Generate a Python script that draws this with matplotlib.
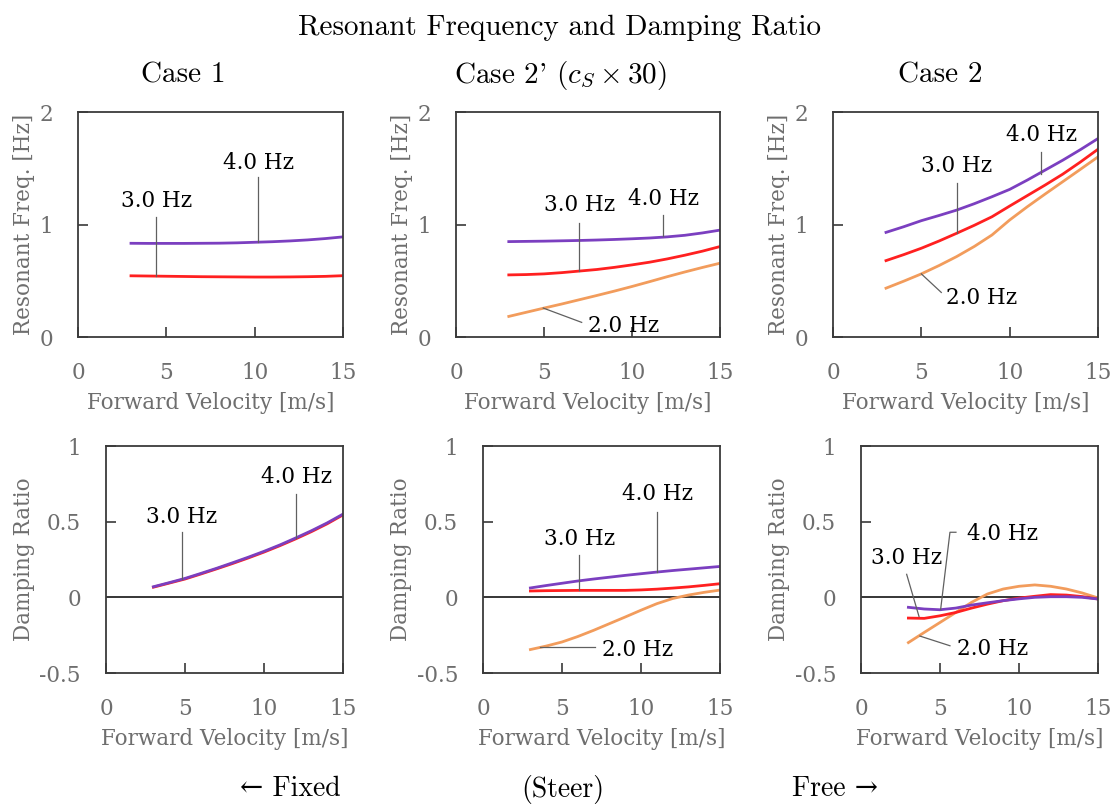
import matplotlib
matplotlib.use("Agg")
from matplotlib import pyplot as plt

plt.rcParams['mathtext.fontset'] = 'cm'

v = [3, 4, 5, 6, 7, 8, 9, 10, 11, 12, 13, 14, 15]

# resonant frequency [Hz]
freq_case1_40 = [0.833, 0.832, 0.832, 0.832, 0.833, 0.834, 0.837, 0.842, 0.847, 0.854, 0.863, 0.875, 0.890]
freq_case1_30 = [0.544, 0.542, 0.540, 0.538, 0.536, 0.535, 0.534, 0.533, 0.533, 0.534, 0.536, 0.539, 0.545]

freq_case2p_40 = [0.848, 0.850, 0.852, 0.855, 0.858, 0.862, 0.867, 0.873, 0.880, 0.890, 0.904, 0.925, 0.950]
freq_case2p_30 = [0.552, 0.555, 0.561, 0.572, 0.586, 0.600, 0.619, 0.641, 0.665, 0.694, 0.727, 0.763, 0.804]
freq_case2p_20 = [0.183, 0.220, 0.257, 0.293, 0.331, 0.369, 0.408, 0.449, 0.492, 0.536, 0.578, 0.618, 0.656]

freq_case2_40 = [0.930, 0.980, 1.034, 1.080, 1.128, 1.185, 1.247, 1.312, 1.395, 1.483, 1.571, 1.665, 1.764]
freq_case2_30 = [0.679, 0.732, 0.789, 0.853, 0.922, 0.993, 1.069, 1.164, 1.257, 1.350, 1.447, 1.555, 1.669]
freq_case2_20 = [0.434, 0.496, 0.561, 0.635, 0.715, 0.805, 0.907, 1.040, 1.158, 1.270, 1.380, 1.490, 1.601]

# damping ratio
damp_case1_40 = [0.070, 0.097, 0.125, 0.158, 0.192, 0.228, 0.265, 0.304, 0.346, 0.392, 0.440, 0.492, 0.550]
damp_case1_30 = [0.067, 0.094, 0.121, 0.154, 0.188, 0.223, 0.260, 0.299, 0.341, 0.386, 0.434, 0.486, 0.545]

damp_case2p_40 = [0.062, 0.078, 0.093, 0.108, 0.121, 0.133, 0.145, 0.156, 0.167, 0.177, 0.186, 0.195, 0.204]
damp_case2p_30 = [0.042, 0.044, 0.045, 0.046, 0.046, 0.046, 0.046, 0.049, 0.054, 0.061, 0.069, 0.079, 0.090]
damp_case2p_20 = [-0.345, -0.322, -0.295, -0.259, -0.218, -0.174, -0.130, -0.085, -0.042, -0.008, 0.015, 0.033, 0.048]

damp_case2_40 = [-0.066, -0.077, -0.082, -0.071, -0.051, -0.036, -0.022, -0.010, 0.000, 0.004, 0.004, 0.000, -0.011]
damp_case2_30 = [-0.137, -0.139, -0.122, -0.100, -0.071, -0.045, -0.022, -0.005, 0.007, 0.018, 0.015, 0.005, -0.011]
damp_case2_20 = [-0.299, -0.232, -0.166, -0.100, -0.033, 0.022, 0.055, 0.073, 0.082, 0.073, 0.055, 0.029, -0.004]

c40 = '#7b3fc0'
c30 = '#ff2020'
c20 = '#f29c5c'
grey = '#6e6e6e'
dark = '#3a3a3a'
lead = '#606060'
serif = 'DejaVu Serif'
fs = 15.5

fig = plt.figure(figsize=(11.18, 8.05), dpi=100)

W, H = 1118.0, 805.0


def make_ax(left, top, right, bottom):
    return fig.add_axes([left / W, 1 - bottom / H, (right - left) / W, (bottom - top) / H])


def style(ax, ylim, yticks, yticklabels, ylabel):
    ax.set_xlim(0, 15)
    ax.set_ylim(*ylim)
    ax.set_xticks([0, 5, 10, 15])
    ax.set_xticklabels(['0', '5', '10', '15'], fontfamily=serif, fontsize=fs, color=grey)
    ax.set_yticks(yticks)
    ax.set_yticklabels(yticklabels, fontfamily=serif, fontsize=fs, color=grey)
    ax.tick_params(direction='in', length=7, width=1.2, color=dark, pad=18)
    for s in ax.spines.values():
        s.set_color(dark)
        s.set_linewidth(1.3)
    ax.set_xlabel('Forward Velocity [m/s]', fontfamily=serif, fontsize=fs, color=grey, labelpad=6)
    ax.set_ylabel(ylabel, fontfamily=serif, fontsize=fs, color=grey, labelpad=3)


def note(ax, label, lx, ly, tx, ty, ha='center', va='bottom'):
    ax.plot(lx, ly, color=lead, lw=0.9, zorder=4)
    ax.text(tx, ty, label, fontfamily=serif, fontsize=fs, color='black', ha=ha, va=va, zorder=5)


# top row: resonant frequency
ax1 = make_ax(78, 112, 343, 337)
ax2 = make_ax(456, 112, 720, 337)
ax3 = make_ax(833, 112, 1098, 337)
for ax in (ax1, ax2, ax3):
    style(ax, (0, 2), [0, 1, 2], ['0', '1', '2'], 'Resonant Freq. [Hz]')

ax1.plot(v, freq_case1_30, color=c30, lw=2)
ax1.plot(v, freq_case1_40, color=c40, lw=2)
note(ax1, '3.0 Hz', [4.43, 4.43], [0.54, 1.07], 4.43, 1.11)
note(ax1, '4.0 Hz', [10.2, 10.2], [0.842, 1.42], 10.2, 1.45)

ax2.plot(v, freq_case2p_20, color=c20, lw=2)
ax2.plot(v, freq_case2p_30, color=c30, lw=2)
ax2.plot(v, freq_case2p_40, color=c40, lw=2)
note(ax2, '3.0 Hz', [7.0, 7.0], [0.588, 1.016], 7.0, 1.08)
note(ax2, '4.0 Hz', [11.78, 11.78], [0.898, 1.084], 11.8, 1.13)
note(ax2, '2.0 Hz', [4.96, 7.14], [0.257, 0.13], 7.5, 0.10, ha='left', va='center')

ax3.plot(v, freq_case2_20, color=c20, lw=2)
ax3.plot(v, freq_case2_30, color=c30, lw=2)
ax3.plot(v, freq_case2_40, color=c40, lw=2)
note(ax3, '3.0 Hz', [7.0, 7.0], [0.922, 1.365], 7.0, 1.42)
note(ax3, '4.0 Hz', [11.8, 11.8], [1.45, 1.645], 11.8, 1.70)
note(ax3, '2.0 Hz', [5.0, 6.13], [0.561, 0.396], 6.42, 0.346, ha='left', va='center')

# bottom row: damping ratio
ax4 = make_ax(106, 446, 343, 673)
ax5 = make_ax(483, 446, 720, 673)
ax6 = make_ax(861, 446, 1098, 673)
for ax in (ax4, ax5, ax6):
    style(ax, (-0.5, 1), [-0.5, 0, 0.5, 1], ['-0.5', '0', '0.5', '1'], 'Damping Ratio')
    ax.axhline(0, color='black', lw=1.1, zorder=1)

ax4.plot(v, damp_case1_30, color=c30, lw=2)
ax4.plot(v, damp_case1_40, color=c40, lw=2)
note(ax4, '3.0 Hz', [4.8, 4.8], [0.12, 0.43], 4.8, 0.46)
note(ax4, '4.0 Hz', [12.04, 12.04], [0.39, 0.685], 12.04, 0.72)

ax5.plot(v, damp_case2p_20, color=c20, lw=2)
ax5.plot(v, damp_case2p_30, color=c30, lw=2)
ax5.plot(v, damp_case2p_40, color=c40, lw=2)
note(ax5, '3.0 Hz', [6.05, 6.05], [0.046, 0.277], 6.08, 0.31)
note(ax5, '4.0 Hz', [11.04, 11.04], [0.167, 0.563], 11.04, 0.61)
note(ax5, '2.0 Hz', [3.6, 7.1], [-0.33, -0.33], 7.5, -0.35, ha='left', va='center')

ax6.plot(v, damp_case2_20, color=c20, lw=2)
ax6.plot(v, damp_case2_30, color=c30, lw=2)
ax6.plot(v, damp_case2_40, color=c40, lw=2)
note(ax6, '3.0 Hz', [3.67, 2.89], [-0.126, 0.152], 2.89, 0.19)
note(ax6, '4.0 Hz', [5.04, 5.63, 6.01], [-0.08, 0.43, 0.43], 6.7, 0.417, ha='left', va='center')
note(ax6, '2.0 Hz', [3.73, 5.63], [-0.256, -0.32], 6.05, -0.344, ha='left', va='center')

# headings in a Computer Modern face
tfont = ['cmr10', 'DejaVu Serif']
hs = 21
fig.text(560 / W, 1 - 28 / H, 'Resonant Frequency and Damping Ratio', family=tfont, fontsize=hs,
         ha='center', va='center')
fig.text(183 / W, 1 - 75 / H, 'Case 1', family=tfont, fontsize=hs, ha='center', va='center')
fig.text(560 / W, 1 - 75 / H, "Case 2' ($c_S \\times 30$)", family=tfont, fontsize=hs,
         ha='center', va='center')
fig.text(940 / W, 1 - 75 / H, 'Case 2', family=tfont, fontsize=hs, ha='center', va='center')

fig.text(290 / W, 1 - 789 / H, '\u2190 Fixed', family=tfont, fontsize=hs - 1, ha='center', va='center')
fig.text(563 / W, 1 - 789 / H, '(Steer)', family=tfont, fontsize=hs - 1, ha='center', va='center')
fig.text(835 / W, 1 - 789 / H, 'Free \u2192', family=tfont, fontsize=hs - 1, ha='center', va='center')

fig.savefig('out.png', dpi=100)
